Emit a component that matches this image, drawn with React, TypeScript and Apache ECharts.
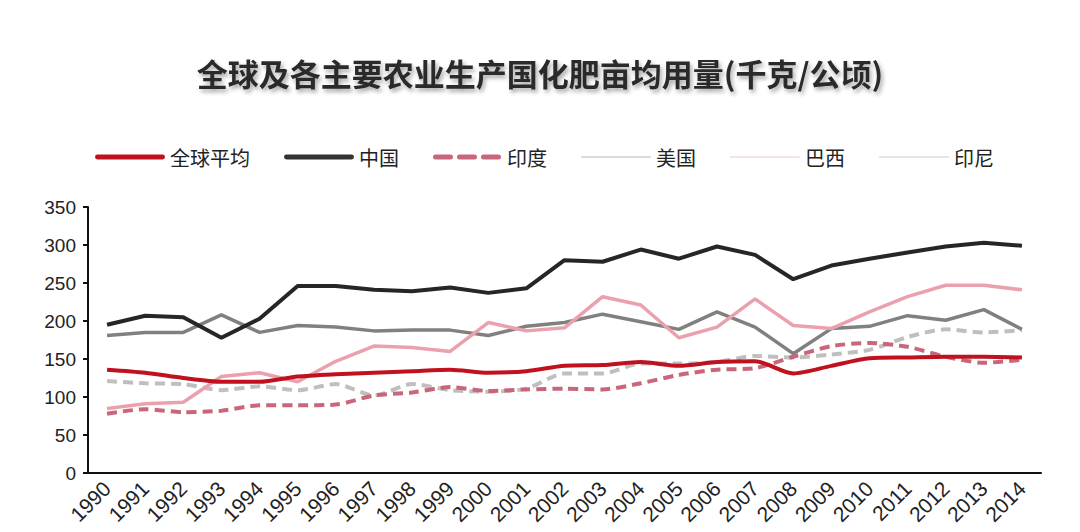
import React, { useEffect, useRef } from "react";
import * as echarts from "echarts";

const years = [
  "1990", "1991", "1992", "1993", "1994", "1995", "1996", "1997", "1998", "1999",
  "2000", "2001", "2002", "2003", "2004", "2005", "2006", "2007", "2008", "2009",
  "2010", "2011", "2012", "2013", "2014",
];

const worldAvg = [136, 132, 125, 120, 120, 127, 130, 132, 134, 136, 132, 134, 141, 142, 146, 141, 146, 147, 131, 141, 151, 152, 153, 153, 152];
const china = [195, 207, 205, 178, 203, 246, 246, 241, 239, 244, 237, 243, 280, 278, 294, 282, 298, 287, 255, 273, 282, 290, 298, 303, 299];
const india = [78, 84, 80, 82, 89, 89, 90, 102, 106, 113, 108, 110, 111, 110, 118, 129, 136, 138, 153, 167, 171, 166, 153, 145, 149];
const usa = [181, 185, 185, 208, 185, 194, 192, 187, 188, 188, 181, 193, 198, 209, 199, 189, 212, 192, 157, 190, 193, 207, 201, 215, 189];
const brazil = [85, 91, 93, 127, 132, 120, 147, 167, 165, 160, 198, 187, 191, 232, 221, 178, 192, 229, 194, 190, 212, 232, 247, 247, 241];
const indonesia = [121, 118, 117, 109, 114, 109, 117, 102, 117, 109, 107, 111, 131, 131, 144, 144, 146, 154, 152, 156, 162, 179, 189, 185, 188];

const yTicks = [0, 50, 100, 150, 200, 250, 300, 350];

// legend icon shapes (70 x 14 box)
const thickIcon = "path://M0,0L0,0M0,14L0,14M2,4.5L68,4.5A2.5,2.5 0 0 1 68,9.5L2,9.5A2.5,2.5 0 0 1 2,4.5Z";
const dashIcon =
  "path://M0,0L0,0M0,14L0,14" +
  "M2,4.5L17,4.5A2.5,2.5 0 0 1 17,9.5L2,9.5A2.5,2.5 0 0 1 2,4.5Z" +
  "M26,4.5L41,4.5A2.5,2.5 0 0 1 41,9.5L26,9.5A2.5,2.5 0 0 1 26,4.5Z" +
  "M50,4.5L65,4.5A2.5,2.5 0 0 1 65,9.5L50,9.5A2.5,2.5 0 0 1 50,4.5Z";
const thinIcon = "path://M0,0L0,0M0,14L0,14M0,6.5L70,6.5L70,7.5L0,7.5Z";

export default function App() {
  const ref = useRef<HTMLDivElement>(null);
  useEffect(() => {
    if (!ref.current) return;
    const chart = echarts.init(ref.current, null, { renderer: "svg" });
    const font = "'Liberation Sans', Arial, sans-serif";
    const cjk = "'Noto Sans CJK SC', sans-serif";
    chart.setOption({
      animation: false,
      backgroundColor: "#ffffff",
      title: {
        text: "全球及各主要农业生产国化肥亩均用量(千克/公顷)",
        left: "center",
        top: 52,
        textStyle: {
          fontFamily: cjk,
          fontSize: 31,
          fontWeight: "bold",
          color: "#2a2a2a",
          textShadowColor: "rgba(0,0,0,0.35)",
          textShadowBlur: 4,
          textShadowOffsetX: 2,
          textShadowOffsetY: 3,
        },
      },
      legend: {
        top: 142,
        left: 90,
        itemWidth: 70,
        itemHeight: 14,
        itemGap: 34,
        textStyle: { fontFamily: cjk, fontSize: 20, color: "#222" },
        data: [
          { name: "全球平均", icon: thickIcon, itemStyle: { color: "#c0111f" } },
          { name: "中国", icon: thickIcon, itemStyle: { color: "#333333" } },
          { name: "印度", icon: dashIcon, itemStyle: { color: "#c9667a" } },
          { name: "美国", icon: thinIcon, itemStyle: { color: "#b8b8b8" } },
          { name: "巴西", icon: thinIcon, itemStyle: { color: "#ecc8cc" } },
          { name: "印尼", icon: thinIcon, itemStyle: { color: "#cccccc" } },
        ],
      },
      grid: { left: 88, right: 39, top: 207, bottom: 59, containLabel: false },
      xAxis: {
        type: "category",
        data: years,
        boundaryGap: true,
        axisLine: { lineStyle: { color: "#111", width: 2 } },
        axisTick: { show: false },
        axisLabel: {
          rotate: 45,
          interval: 0,
          fontFamily: font,
          fontSize: 21,
          color: "#222",
          margin: 12,
        },
      },
      yAxis: {
        type: "value",
        min: 0,
        max: 350,
        interval: 50,
        axisLine: { show: true, lineStyle: { color: "#111", width: 2 } },
        axisTick: { show: true, length: 5, lineStyle: { color: "#111", width: 2 } },
        splitLine: { show: false },
        axisLabel: {
          fontFamily: font,
          fontSize: 19,
          color: "#222",
          margin: 12,
          formatter: (v: number) => (yTicks.includes(v) ? String(v) : ""),
        },
      },
      series: [
        {
          name: "印尼",
          type: "line",
          data: indonesia,
          symbol: "none",
          smooth: 0.25,
          lineStyle: { color: "#bfbfbf", width: 4, type: [10, 6] },
          itemStyle: { color: "#bfbfbf" },
          z: 2,
        },
        {
          name: "美国",
          type: "line",
          data: usa,
          symbol: "none",
          lineStyle: { color: "#808080", width: 3.5 },
          itemStyle: { color: "#808080" },
          z: 3,
        },
        {
          name: "巴西",
          type: "line",
          data: brazil,
          symbol: "none",
          lineStyle: { color: "#eba1ad", width: 3.5 },
          itemStyle: { color: "#eba1ad" },
          z: 3,
        },
        {
          name: "印度",
          type: "line",
          data: india,
          symbol: "none",
          smooth: 0.25,
          lineStyle: { color: "#c9667a", width: 4, type: [10, 6] },
          itemStyle: { color: "#c9667a" },
          z: 4,
        },
        {
          name: "中国",
          type: "line",
          data: china,
          symbol: "none",
          lineStyle: { color: "#262626", width: 4 },
          itemStyle: { color: "#262626" },
          z: 5,
        },
        {
          name: "全球平均",
          type: "line",
          data: worldAvg,
          symbol: "none",
          smooth: 0.25,
          lineStyle: { color: "#c0111f", width: 4 },
          itemStyle: { color: "#c0111f" },
          z: 6,
        },
      ],
    });
    return () => chart.dispose();
  }, []);
  return (
    <div
      ref={ref}
      style={{ position: "fixed", left: 0, top: 0, width: 1080, height: 532 }}
    />
  );
}
